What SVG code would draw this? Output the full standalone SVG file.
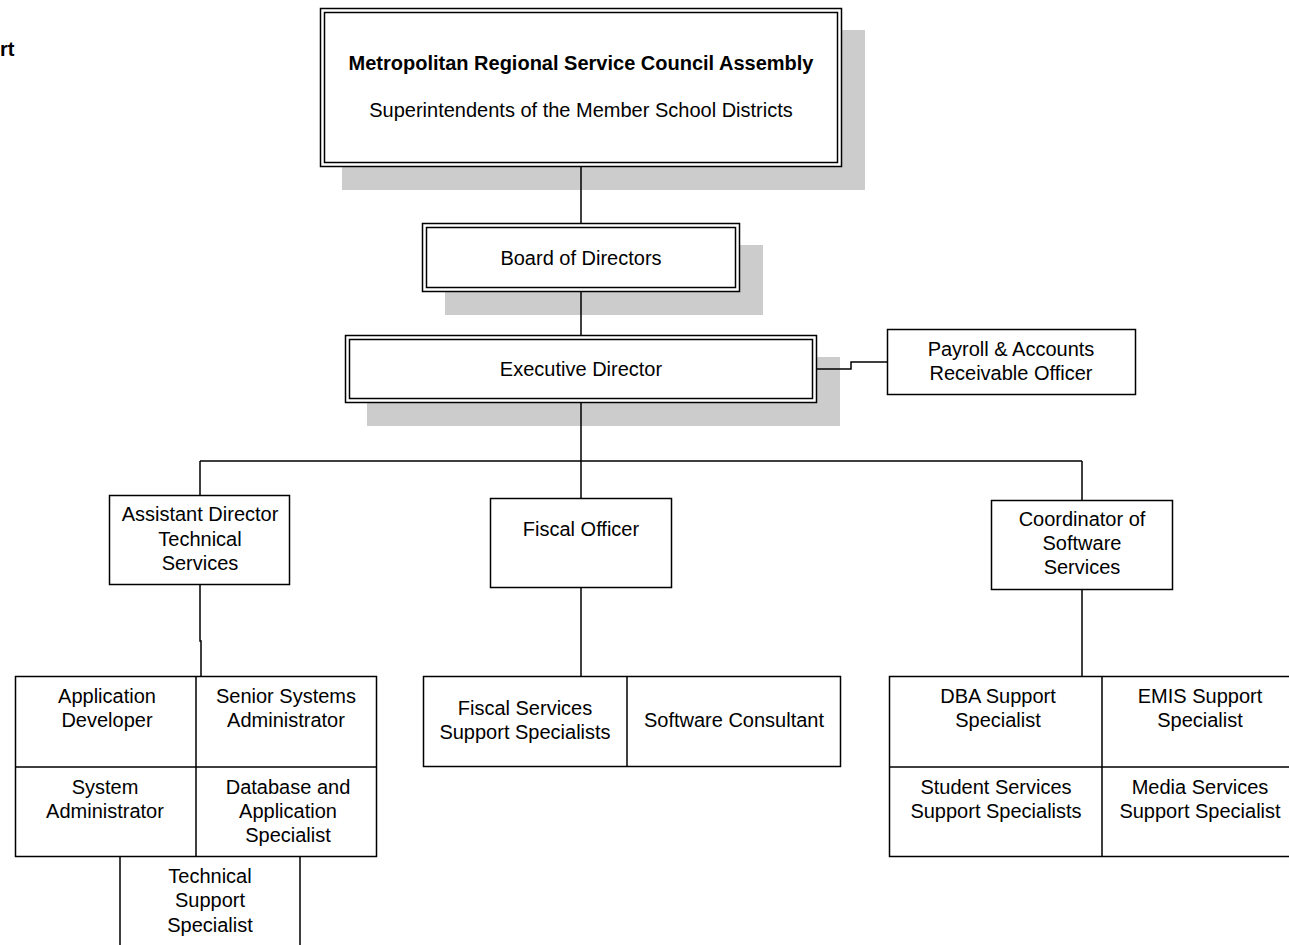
<svg xmlns="http://www.w3.org/2000/svg" width="1289" height="945" viewBox="0 0 1289 945">
<style>
.box{fill:#fff;stroke:#000;stroke-width:1.5}
.shadow{fill:#cccccc;stroke:none}
.conn{fill:none;stroke:#000;stroke-width:1.5}
text{font-family:"Liberation Sans",Arial,sans-serif;font-size:20px;fill:#000;text-anchor:middle}
.b{font-weight:bold}
</style>
<rect width="1289" height="945" fill="#fff"/>
<text class="b" x="0" y="56" style="text-anchor:start">rt</text>

<g id="assembly">
<rect class="shadow" x="342" y="30" width="523" height="160"/>
<rect class="box" x="320.5" y="8.5" width="521" height="158"/>
<rect class="box" x="324.5" y="12.5" width="513" height="150"/>
<text class="b" x="581" y="70">Metropolitan Regional Service Council Assembly</text>
<text x="581" y="117">Superintendents of the Member School Districts</text>
</g>

<g id="board">
<rect class="shadow" x="445" y="245" width="318" height="70"/>
<rect class="box" x="422.5" y="223.5" width="317" height="68"/>
<rect class="box" x="426.5" y="227.5" width="309" height="60"/>
<text x="581" y="265">Board of Directors</text>
</g>

<g id="executive">
<rect class="shadow" x="367" y="357" width="473" height="69"/>
<rect class="box" x="345.5" y="335.5" width="471" height="67"/>
<rect class="box" x="349.5" y="339.5" width="463" height="59"/>
<text x="581" y="376">Executive Director</text>
</g>

<g id="payroll">
<rect class="box" x="887.5" y="329.5" width="248" height="65"/>
<text x="1011" y="356">Payroll &amp; Accounts</text>
<text x="1011" y="380">Receivable Officer</text>
</g>

<g id="asst-director">
<rect class="box" x="109.5" y="495.5" width="180" height="89"/>
<text x="200" y="521">Assistant Director</text>
<text x="200" y="546">Technical</text>
<text x="200" y="570">Services</text>
</g>

<g id="fiscal-officer">
<rect class="box" x="490.5" y="498.5" width="181" height="89"/>
<text x="581" y="536">Fiscal Officer</text>
</g>

<g id="coordinator">
<rect class="box" x="991.5" y="500.5" width="181" height="89"/>
<text x="1082" y="526">Coordinator of</text>
<text x="1082" y="550">Software</text>
<text x="1082" y="574">Services</text>
</g>

<g id="tech-staff">
<rect class="box" x="15.5" y="676.5" width="361" height="180"/>
<path class="conn" d="M196,676V857M15,767H377"/>
<text x="107" y="703">Application</text>
<text x="107" y="727">Developer</text>
<text x="286" y="703">Senior Systems</text>
<text x="286" y="727">Administrator</text>
<text x="105" y="794">System</text>
<text x="105" y="818">Administrator</text>
<text x="288" y="794">Database and</text>
<text x="288" y="818">Application</text>
<text x="288" y="842">Specialist</text>
</g>

<g id="tech-support">
<path class="conn" d="M120,857V946M300,857V946"/>
<text x="210" y="883">Technical</text>
<text x="210" y="907">Support</text>
<text x="210" y="932">Specialist</text>
</g>

<g id="fiscal-staff">
<rect class="box" x="423.5" y="676.5" width="417" height="90"/>
<path class="conn" d="M627,676V767"/>
<text x="525" y="715">Fiscal Services</text>
<text x="525" y="739">Support Specialists</text>
<text x="734" y="727">Software Consultant</text>
</g>

<g id="software-staff">
<rect class="box" x="889.5" y="676.5" width="420" height="180"/>
<path class="conn" d="M1102,676V857M889,767H1300"/>
<text x="998" y="703">DBA Support</text>
<text x="998" y="727">Specialist</text>
<text x="1200" y="703">EMIS Support</text>
<text x="1200" y="727">Specialist</text>
<text x="996" y="794">Student Services</text>
<text x="996" y="818">Support Specialists</text>
<text x="1200" y="794">Media Services</text>
<text x="1200" y="818">Support Specialist</text>
</g>

<g id="connectors">
<path class="conn" d="M581,167V223M581,292V335M581,403V461M200,461H1082M200,461V495M581,461V498M1082,461V500"/>
<path class="conn" d="M817,369H851V362H887"/>
<path class="conn" d="M200,585V641H201V676"/>
<path class="conn" d="M581,588V676"/>
<path class="conn" d="M1082,590V676"/>
</g>
</svg>
